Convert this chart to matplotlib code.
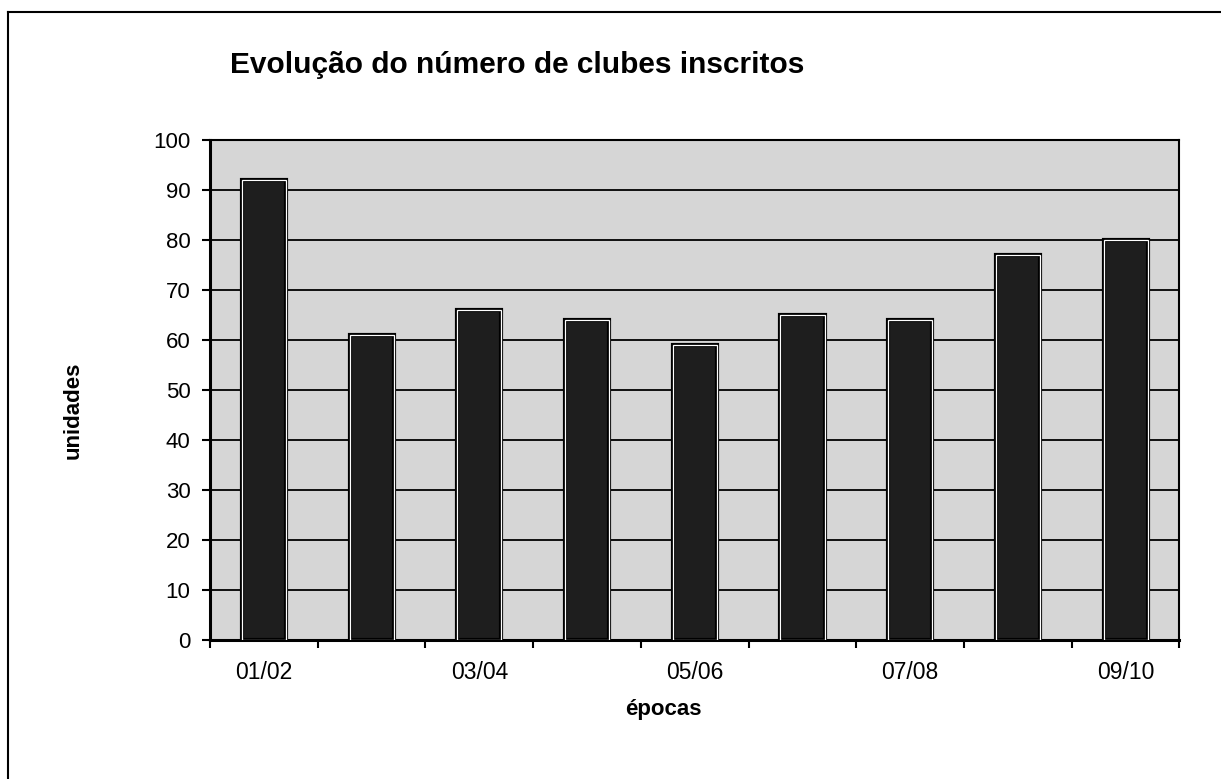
import numpy as np
import matplotlib
matplotlib.use('Agg')
import matplotlib.pyplot as plt
from matplotlib.lines import Line2D

plt.rcParams['font.family'] = ['Liberation Sans', 'DejaVu Sans']

epocas = ['01/02', '02/03', '03/04', '04/05', '05/06', '06/07', '07/08', '08/09', '09/10']
clubes = [92, 61, 66, 64, 59, 65, 64, 77, 80]
yticks = [0, 10, 20, 30, 40, 50, 60, 70, 80, 90, 100]

fig = plt.figure(figsize=(12.21, 7.79), dpi=100)
ax = fig.add_axes([0.172, 0.178, 0.794, 0.642])
ax.set_facecolor('#d6d6d6')

x = np.arange(len(epocas))
ax.set_axisbelow(True)
ax.yaxis.grid(True, color='black', linewidth=1.3)
ax.bar(x, clubes, width=0.41, color='#1e1e1e', edgecolor='black', linewidth=3.0, zorder=3)
ax.bar(x, clubes, width=0.41, fill=False, edgecolor='white', linewidth=0.9, zorder=4)

ax.set_xlim(-0.5, len(epocas) - 0.5)
ax.set_ylim(0, 100)
ax.set_yticks(yticks)
ax.set_yticklabels([str(v) for v in yticks], fontsize=16)

# ticks at category boundaries, labels every other season
ax.set_xticks(np.arange(-0.5, len(epocas)), minor=False)
ax.set_xticklabels([])
ax.set_xticks(x[::2], minor=True)
ax.set_xticklabels([epocas[i] for i in x[::2]], minor=True, fontsize=16.5)
ax.tick_params(axis='x', which='major', length=6, width=1.5, direction='out')
ax.tick_params(axis='x', which='minor', length=0, pad=15)
ax.tick_params(axis='y', length=6, width=1.5, direction='out', pad=8)

for s in ax.spines.values():
    s.set_linewidth(1.5)
    s.set_color('black')
ax.spines['bottom'].set_linewidth(2.2)
ax.spines['left'].set_linewidth(2.2)

ax.set_ylabel('unidades', fontsize=16, fontweight='bold', va='center')
ax.yaxis.set_label_coords(-0.141, 0.46)
ax.set_xlabel('épocas', fontsize=16, fontweight='bold', va='center')
ax.xaxis.set_label_coords(0.468, -0.138)

fig.text(0.188, 0.917, 'Evolução do número de clubes inscritos', fontsize=21.5,
         fontweight='bold', ha='left', va='center')

# outer frame of the scanned chart
fig.add_artist(Line2D([0.0066, 0.0066], [0.0, 0.985], color='black', linewidth=1.5))
fig.add_artist(Line2D([0.0066, 1.0], [0.985, 0.985], color='black', linewidth=1.5))

fig.savefig('out.png', dpi=100)
